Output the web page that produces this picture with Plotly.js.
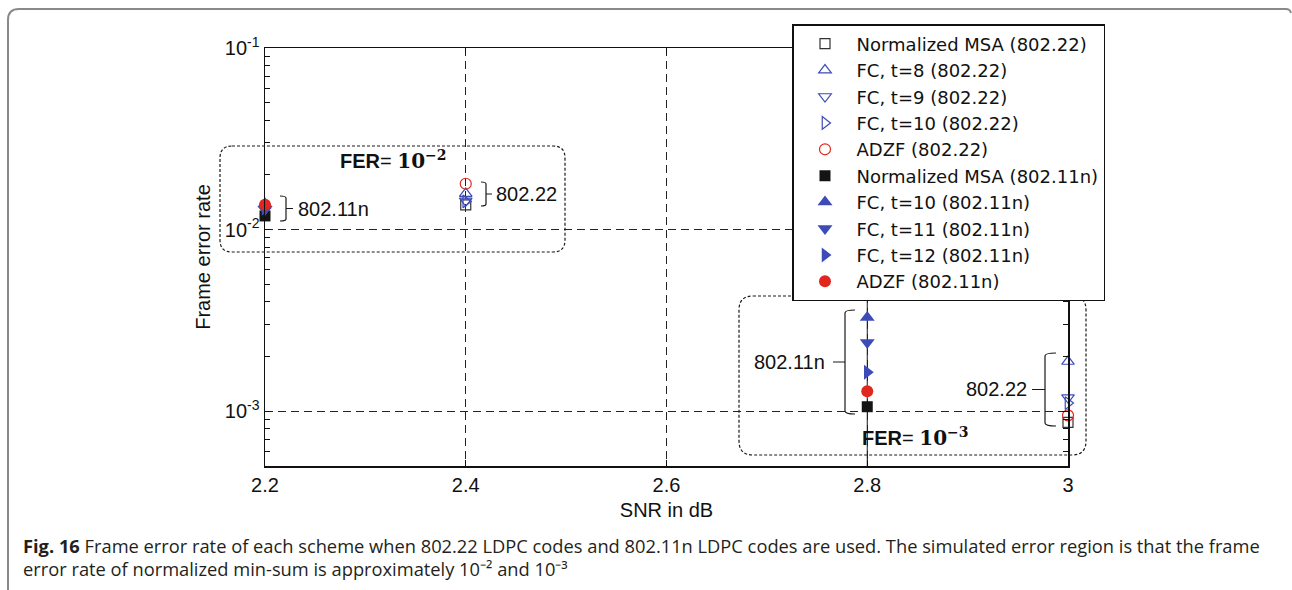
<!DOCTYPE html>
<html>
<head>
<meta charset="utf-8">
<script src="https://cdn.plot.ly/plotly-3.0.1.min.js"></script>
<style>
  html, body { margin: 0; padding: 0; background: #fff; }
  #chart { width: 1292px; height: 590px; }
</style>
</head>
<body>
<div id="chart"></div>
<script>
// SNR points (dB) for each code family
const snr80222 = [2.4, 3.0];
const snr80211n = [2.2, 2.8];

// Frame error rate, 802.22 LDPC codes
const msa80222 = [1.37e-2, 8.7e-4];
const fcT8_80222 = [1.58e-2, 1.88e-3];
const fcT9_80222 = [1.44e-2, 1.19e-3];
const fcT10_80222 = [1.43e-2, 1.11e-3];
const adzf80222 = [1.79e-2, 9.5e-4];

// Frame error rate, 802.11n LDPC codes
const msa80211n = [1.19e-2, 1.06e-3];
const fcT10_80211n = [1.39e-2, 3.28e-3];
const fcT11_80211n = [1.29e-2, 2.39e-3];
const fcT12_80211n = [1.31e-2, 1.64e-3];
const adzf80211n = [1.37e-2, 1.29e-3];

// Axis ticks
const xTicks = [2.2, 2.4, 2.6, 2.8, 3.0];
const xTickText = ['2.2', '2.4', '2.6', '2.8', '3'];
const yTicks = [1e-1, 1e-2, 1e-3];
const yTickText = ['10<sup>-1</sup>', '10<sup>-2</sup>', '10<sup>-3</sup>'];
const yMinorTicks = [9e-2, 8e-2, 7e-2, 6e-2, 5e-2, 4e-2, 3e-2, 2e-2,
                     9e-3, 8e-3, 7e-3, 6e-3, 5e-3, 4e-3, 3e-3, 2e-3,
                     9e-4, 8e-4, 7e-4, 6e-4];

const BLUE = '#3d4bb8';
const RED = '#e0261d';
const BLACK = '#141414';

function series(name, x, y, symbol, color, size, open) {
  return {
    type: 'scatter', mode: 'markers', name: name, x: x, y: y, cliponaxis: false,
    marker: open
      ? { symbol: symbol, size: size, color: color, line: { color: color, width: 1.2 } }
      : { symbol: symbol, size: size, color: color, line: { width: 0 } }
  };
}

const traces = [
  series('Normalized MSA (802.22)', snr80222, msa80222, 'square-open', '#333333', 10, true),
  series('FC, t=8 (802.22)', snr80222, fcT8_80222, 'triangle-up-open', BLUE, 11, true),
  series('FC, t=9 (802.22)', snr80222, fcT9_80222, 'triangle-down-open', BLUE, 11, true),
  series('FC, t=10 (802.22)', snr80222, fcT10_80222, 'triangle-right-open', BLUE, 11, true),
  series('ADZF (802.22)', snr80222, adzf80222, 'circle-open', RED, 11, true),
  series('Normalized MSA (802.11n)', snr80211n, msa80211n, 'square', BLACK, 11, false),
  series('FC, t=10 (802.11n)', snr80211n, fcT10_80211n, 'triangle-up', BLUE, 13, false),
  series('FC, t=11 (802.11n)', snr80211n, fcT11_80211n, 'triangle-down', BLUE, 13, false),
  series('FC, t=12 (802.11n)', snr80211n, fcT12_80211n, 'triangle-right', BLUE, 13, false),
  series('ADZF (802.11n)', snr80211n, adzf80211n, 'circle', RED, 12, false)
];

// Plot box in page pixels, used to place the decorations
const L = 265, R = 1068, T = 48, B = 466;
const px = x => (x - L) / (R - L);
const py = y => (B - y) / (B - T);
const P = (x, y) => px(x).toFixed(5) + ',' + py(y).toFixed(5);

function roundBox(x0, y0, x1, y1, r) {
  return 'M' + P(x0 + r, y0) + ' L' + P(x1 - r, y0) +
    ' Q' + P(x1, y0) + ' ' + P(x1, y0 + r) +
    ' L' + P(x1, y1 - r) + ' Q' + P(x1, y1) + ' ' + P(x1 - r, y1) +
    ' L' + P(x0 + r, y1) + ' Q' + P(x0, y1) + ' ' + P(x0, y1 - r) +
    ' L' + P(x0, y0 + r) + ' Q' + P(x0, y0) + ' ' + P(x0 + r, y0) + ' Z';
}

// bracket opening to the left with a tick on the right (])
function bracketRight(x, y0, y1, hook, tick) {
  const ym = (y0 + y1) / 2;
  return 'M' + P(x - hook, y0) + ' Q' + P(x, y0) + ' ' + P(x, y0 + 2) +
    ' L' + P(x, y1 - 2) + ' Q' + P(x, y1) + ' ' + P(x - hook, y1) +
    ' M' + P(x, ym) + ' L' + P(x + tick, ym);
}
// bracket opening to the right with a tick on the left ([)
function bracketLeft(x, y0, y1, hook, tick) {
  const ym = (y0 + y1) / 2;
  return 'M' + P(x + hook, y0) + ' Q' + P(x, y0) + ' ' + P(x, y0 + 3) +
    ' L' + P(x, y1 - 3) + ' Q' + P(x, y1) + ' ' + P(x + hook, y1) +
    ' M' + P(x, ym) + ' L' + P(x - tick, ym);
}

const lineStyle = { color: '#1a1a1a', width: 1.2 };
const shapes = [
  // outer figure frame
  { type: 'path', xref: 'paper', yref: 'paper', layer: 'above',
    path: 'M' + P(8, 592) + ' L' + P(8, 20) + ' Q' + P(8, 9) + ' ' + P(19, 9) +
          ' L' + P(1286, 9) + ' Q' + P(1290, 9) + ' ' + P(1291, 13),
    line: { color: '#8a8a8a', width: 2 } },
  // solid line at 2.8 dB
  { type: 'line', xref: 'x', yref: 'paper', x0: 2.8, x1: 2.8, y0: 0, y1: 1,
    line: { color: '#1a1a1a', width: 1 }, layer: 'below' },
  // regions around FER = 1e-2 and FER = 1e-3
  { type: 'path', xref: 'paper', yref: 'paper', path: roundBox(220, 146, 565, 252, 12),
    line: { color: '#1a1a1a', width: 1.2, dash: '3px,2px' } },
  { type: 'path', xref: 'paper', yref: 'paper', path: roundBox(739, 296, 1086, 455, 14),
    line: { color: '#1a1a1a', width: 1.2, dash: '3px,2px' } },
  // group brackets
  { type: 'path', xref: 'paper', yref: 'paper', path: bracketRight(286, 196, 221, 6, 7), line: lineStyle },
  { type: 'path', xref: 'paper', yref: 'paper', path: bracketRight(486, 182, 206, 5, 6), line: lineStyle },
  { type: 'path', xref: 'paper', yref: 'paper', path: bracketLeft(845, 310, 414, 10, 12), line: lineStyle },
  { type: 'path', xref: 'paper', yref: 'paper', path: bracketLeft(1045, 353, 426, 11, 13), line: lineStyle }
];

const txtFont = { family: 'Liberation Sans, Arial, sans-serif', size: 20, color: '#111' };
const capFont = { family: 'Open Sans, sans-serif', size: 18.3, color: '#231f20' };
const serif = "<span style='font-family:DejaVu Serif'>";
const annotations = [
  { xref: 'paper', yref: 'paper', x: px(296), y: py(209), xanchor: 'left', yanchor: 'middle',
    text: '802.11n', showarrow: false, font: txtFont },
  { xref: 'paper', yref: 'paper', x: px(494), y: py(194), xanchor: 'left', yanchor: 'middle',
    text: '802.22', showarrow: false, font: txtFont },
  { xref: 'paper', yref: 'paper', x: px(827), y: py(362), xanchor: 'right', yanchor: 'middle',
    text: '802.11n', showarrow: false, font: txtFont },
  { xref: 'paper', yref: 'paper', x: px(1029), y: py(389), xanchor: 'right', yanchor: 'middle',
    text: '802.22', showarrow: false, font: txtFont },
  { xref: 'paper', yref: 'paper', x: px(338), y: py(160), xanchor: 'left', yanchor: 'middle',
    text: '<b>FER</b>= ' + serif + '<b>10<sup>−2</sup></b></span>', showarrow: false, font: txtFont },
  { xref: 'paper', yref: 'paper', x: px(860), y: py(437), xanchor: 'left', yanchor: 'middle',
    text: '<b>FER</b>= ' + serif + '<b>10<sup>−3</sup></b></span>', showarrow: false, font: txtFont },
  // figure caption
  { xref: 'paper', yref: 'paper', x: px(21), y: py(545), xanchor: 'left', yanchor: 'middle',
    text: '<b>Fig. 16</b> Frame error rate of each scheme when 802.22 LDPC codes and 802.11n LDPC codes are used. The simulated error region is that the frame',
    showarrow: false, font: capFont },
  { xref: 'paper', yref: 'paper', x: px(21), y: py(568), xanchor: 'left', yanchor: 'middle',
    text: 'error rate of normalized min-sum is approximately 10⁻² and 10⁻³',
    showarrow: false, font: capFont }
];

const axisFont = { family: 'Liberation Sans, Arial, sans-serif', size: 20, color: '#111' };

const layout = {
  width: 1292, height: 590,
  margin: { l: L, r: 1292 - R, t: T, b: 590 - B, pad: 0 },
  paper_bgcolor: '#ffffff', plot_bgcolor: '#ffffff',
  showlegend: true,
  legend: {
    x: px(792), y: py(24), xanchor: 'left', yanchor: 'top',
    bgcolor: '#ffffff', bordercolor: '#111', borderwidth: 1.5,
    font: { family: 'DejaVu Sans, sans-serif', size: 18, color: '#111' },
    itemwidth: 53, tracegroupgap: 0
  },
  xaxis: {
    range: [2.2, 3.0], tickvals: xTicks, ticktext: xTickText,
    showline: true, linecolor: '#111', linewidth: 1.5, mirror: 'allticks',
    ticks: 'inside', ticklen: 6, tickcolor: '#111',
    showgrid: true, gridcolor: '#222', gridwidth: 1, griddash: '8px,5px',
    zeroline: false, tickfont: axisFont,
    title: { text: 'SNR in dB', font: axisFont, standoff: 8 }
  },
  yaxis: {
    type: 'log', range: [Math.log10(5e-4), -1],
    tickvals: yTicks, ticktext: yTickText,
    showline: true, linecolor: '#111', linewidth: 1.5, mirror: 'allticks',
    ticks: 'inside', ticklen: 6, tickcolor: '#111',
    minor: { tickvals: yMinorTicks, ticks: 'inside', ticklen: 5, tickcolor: '#111', showgrid: false },
    showgrid: true, gridcolor: '#222', gridwidth: 1, griddash: '8px,5px',
    zeroline: false, tickfont: axisFont,
    title: { text: 'Frame error rate', font: axisFont, standoff: 9 }
  },
  shapes: shapes,
  annotations: annotations
};

Plotly.newPlot('chart', traces, layout, { displayModeBar: false, staticPlot: true });
</script>
</body>
</html>
